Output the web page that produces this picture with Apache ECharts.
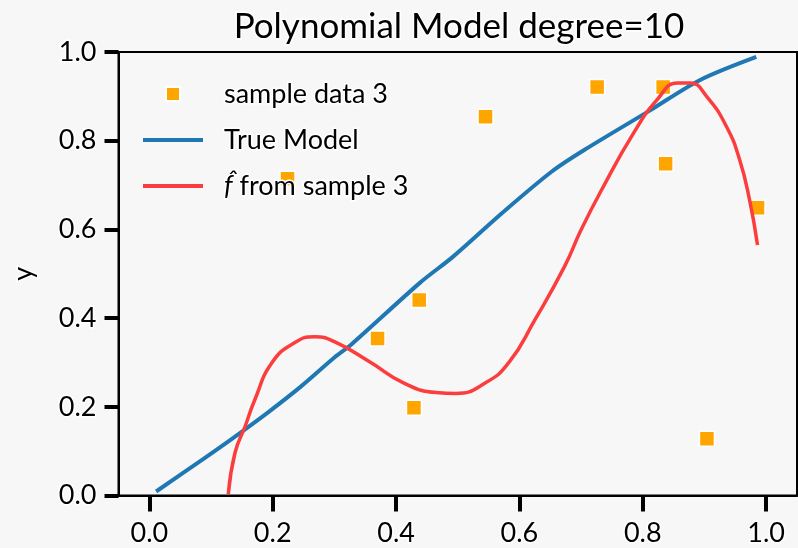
<!DOCTYPE html>
<html>
<head>
<meta charset="utf-8">
<script src="https://cdn.jsdelivr.net/npm/echarts@6/dist/echarts.min.js"></script>
<style>
  html, body { margin: 0; padding: 0; background: #f7f7f7; }
  #chart { width: 798px; height: 548px; }
</style>
</head>
<body>
<div id="chart"></div>
<script>
// sample data 3 (x, y)
var sampleX = [0.224, 0.370, 0.4375, 0.429, 0.545, 0.726, 0.833, 0.837, 0.904, 0.986]
var sampleY = [0.714, 0.354, 0.441, 0.198, 0.854, 0.921, 0.921, 0.748, 0.128, 0.649]

// true model
var trueX = [0.011, 0.086, 0.139, 0.192, 0.246, 0.30, 0.327, 0.439, 0.492, 0.572, 0.652, 0.705, 0.8125, 0.893, 0.984]
var trueY = [0.009, 0.081, 0.133, 0.187, 0.246, 0.311, 0.340, 0.480, 0.538, 0.637, 0.730, 0.779, 0.869, 0.937, 0.989]

// degree 10 fit
var fitX = [0.128, 0.139, 0.155, 0.171, 0.199, 0.236, 0.268, 0.30, 0.359, 0.412, 0.465, 0.497, 0.545, 0.583, 0.625, 0.673, 0.70, 0.732, 0.785, 0.823, 0.856, 0.877, 0.904, 0.936, 0.957, 0.973, 0.986]
var fitY = [0.003, 0.097, 0.155, 0.216, 0.30, 0.345, 0.358, 0.347, 0.30, 0.254, 0.232, 0.230, 0.254, 0.30, 0.396, 0.516, 0.599, 0.686, 0.817, 0.892, 0.930, 0.930, 0.899, 0.831, 0.757, 0.667, 0.565]

var xTicks = [0, 0.2, 0.4, 0.6, 0.8, 1.0]
var yTicks = [0, 0.2, 0.4, 0.6, 0.8, 1.0]

var zip = function (xs, ys) {
  return xs.map(function (x, i) { return [x, ys[i]] })
}

var FONT = 'Lato'
var outline = { textBorderColor: '#fff', textBorderWidth: 3 }

var chart = echarts.init(document.getElementById('chart'))
var option = {
  backgroundColor: '#f7f7f7',
  animation: false,
  title: {
    text: 'Polynomial Model degree=10',
    left: 454,
    textAlign: 'center',
    top: 4,
    textStyle: Object.assign({ fontFamily: FONT, fontSize: 35, fontWeight: 'normal', color: '#000' }, outline)
  },
  grid: {
    left: 112,
    right: 1,
    top: 52,
    bottom: 52,
    show: true,
    borderColor: '#000',
    borderWidth: 2,
    backgroundColor: 'transparent'
  },
  legend: {
    orient: 'vertical',
    left: 137,
    top: 74,
    itemWidth: 60,
    itemHeight: 14,
    itemGap: 16,
    textStyle: Object.assign({
      fontFamily: FONT, fontSize: 27, color: '#000', padding: [0, 0, 0, 16],
      rich: {
        f: { fontFamily: FONT, fontSize: 27, fontStyle: 'italic', color: '#000' }
      }
    }, outline),
    formatter: function (name) {
      if (name === 'fhat') return '{f|f\u0302} from sample 3'
      return name
    },
    data: [
      { name: 'sample data 3', icon: 'path://M0,0 M60,14 M23,0h14v14h-14z' },
      { name: 'True Model', icon: 'path://M0,5h60v4H0z' },
      { name: 'fhat', icon: 'path://M0,5h60v4H0z' }
    ]
  },
  xAxis: {
    type: 'value',
    min: -0.05,
    max: 1.05,
    splitLine: { show: false },
    axisLine: { show: true, onZero: false, lineStyle: { color: '#000', width: 2 } },
    axisTick: { show: true, customValues: xTicks, length: 16, lineStyle: { color: '#000', width: 4 } },
    axisLabel: Object.assign({
      customValues: xTicks,
      margin: 24,
      fontFamily: FONT,
      fontSize: 27,
      color: '#000',
      formatter: function (v) { return v.toFixed(1) }
    }, outline)
  },
  yAxis: {
    type: 'value',
    min: 0,
    max: 1,
    interval: 0.2,
    name: 'y',
    nameLocation: 'middle',
    nameGap: 82,
    nameTextStyle: Object.assign({ fontFamily: FONT, fontSize: 27, color: '#000' }, outline),
    splitLine: { show: false },
    axisLine: { show: true, onZero: false, lineStyle: { color: '#000', width: 2 } },
    axisTick: { show: true, length: 14, lineStyle: { color: '#000', width: 4 } },
    axisLabel: Object.assign({
      customValues: yTicks,
      margin: 22,
      fontFamily: FONT,
      fontSize: 27,
      color: '#000',
      formatter: function (v) { return v.toFixed(1) }
    }, outline)
  },
  series: [
    {
      name: 'sample data 3',
      type: 'scatter',
      symbol: 'rect',
      symbolSize: 15,
      itemStyle: { color: '#ffa500', opacity: 1, borderColor: '#fff', borderWidth: 1.5 },
      data: zip(sampleX, sampleY)
    },
    {
      name: 'True Model',
      type: 'line',
      showSymbol: false,
      smooth: 0.3,
      itemStyle: { color: '#1f77b4' },
      lineStyle: { color: '#1f77b4', width: 4 },
      data: zip(trueX, trueY)
    },
    {
      name: 'fhat',
      type: 'line',
      showSymbol: false,
      smooth: 0.5,
      itemStyle: { color: '#fc3d3d' },
      lineStyle: { color: '#fc3d3d', width: 3.5 },
      data: zip(fitX, fitY)
    }
  ]
}
chart.setOption(option)
</script>
</body>
</html>
